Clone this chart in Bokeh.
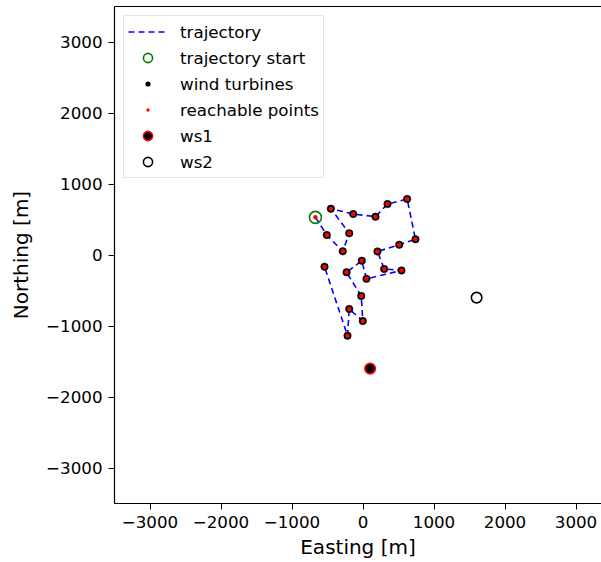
from bokeh.plotting import figure
from bokeh.models import Range1d, LinearAxis, FixedTicker, Legend, LegendItem
from bokeh.embed import file_html
from bokeh.resources import INLINE

# trajectory (visiting order), first point is the start
traj_x = [-670, -510, -285, -194, -453, -138, 176, 345, 622, 739, 510, 204, 298, 542,
          49, -17, -232, -25, -3, -194, -218, -542]
traj_y = [530, 282, 52, 306, 652, 577, 540, 718, 789, 221, 145, 50, -197, -218,
          -336, -80, -244, -577, -930, -761, -1136, -165]
turb_x = traj_x[1:]
turb_y = traj_y[1:]
ws1_x, ws1_y = [100], [-1600]
ws2_x, ws2_y = [1600], [-600]
ticks = [-3000, -2000, -1000, 0, 1000, 2000, 3000]

FONT = "DejaVu Sans"
W, H = 601, 562
L, T, B, R = 114, 6, 59, 0
fw = W - L - R
fh = H - T - B
yr = (-3500, 3500)
xr = (-3500, -3500 + fw / fh * 7000)

p = figure(width=W, height=H, output_backend="svg", toolbar_location=None,
           x_range=Range1d(*xr), y_range=Range1d(*yr),
           min_border_left=L, min_border_top=T, min_border_bottom=B, min_border_right=R)
p.outline_line_color = None
p.grid.visible = False
p.background_fill_color = "white"

for ax in (p.xaxis[0], p.yaxis[0]):
    ax.ticker = FixedTicker(ticks=ticks)
    ax.minor_tick_line_color = None
    ax.major_tick_out = 6
    ax.major_tick_in = 0
    ax.major_tick_line_color = "black"
    ax.axis_line_color = "black"
    ax.axis_line_width = 1.2
    ax.major_label_text_font = FONT
    ax.major_label_text_font_size = "16.7px"
    ax.major_label_text_color = "black"
    ax.axis_label_text_font = FONT
    ax.axis_label_text_font_size = "20px"
    ax.axis_label_text_font_style = "normal"
    ax.axis_label_text_color = "black"
    ax.major_label_standoff = 6
p.xaxis[0].axis_label = "Easting [m]"
p.yaxis[0].axis_label = "Northing [m]"
p.yaxis[0].axis_label_standoff = 10
p.xaxis[0].axis_label_standoff = 4

top = LinearAxis(ticker=FixedTicker(ticks=[]), major_label_text_font_size="0px",
                 major_tick_out=0, major_tick_in=0, minor_tick_line_color=None,
                 axis_line_color="black", axis_line_width=1.2)
p.add_layout(top, "above")

# legend proxies (zero size in the plot, hidden under the turbines);
# in the legend a white outline hides the outer part -> smaller dots
lg_turb = p.scatter(turb_x, turb_y, marker="circle", size=0, fill_color="black",
                    line_color="white", line_width=4.0)
lg_reach = p.scatter(turb_x, turb_y, marker="circle", size=0, fill_color="red",
                     line_color="white", line_width=5.8)

r_traj = p.line(traj_x, traj_y, line_color="blue", line_width=1.6, line_dash="6 4")
r_start = p.scatter(traj_x[:1], traj_y[:1], marker="circle", size=12, fill_color=None,
                    line_color="green", line_width=1.6)
r_turb = p.scatter(turb_x, turb_y, marker="circle", size=7.5, fill_color="black",
                   line_color="black", line_width=0.5)
r_reach = p.scatter(traj_x, traj_y, marker="circle", size=4.5, fill_color="red",
                    line_color=None)
r_ws1 = p.scatter(ws1_x, ws1_y, marker="circle", size=10.5, fill_color="black",
                  line_color="red", line_width=1.6)
r_ws2 = p.scatter(ws2_x, ws2_y, marker="circle", size=10.5, fill_color="white",
                  line_color="black", line_width=1.6)

legend = Legend(items=[
    LegendItem(label="trajectory", renderers=[r_traj]),
    LegendItem(label="trajectory start", renderers=[r_start]),
    LegendItem(label="wind turbines", renderers=[lg_turb]),
    LegendItem(label="reachable points", renderers=[lg_reach]),
    LegendItem(label="ws1", renderers=[r_ws1]),
    LegendItem(label="ws2", renderers=[r_ws2]),
], location="top_left")
legend.margin = 9
legend.padding = 4
legend.spacing = 3
legend.glyph_height = 23
legend.label_height = 23
legend.glyph_width = 39
legend.label_standoff = 13
legend.label_text_font = FONT
legend.label_text_font_size = "16.7px"
legend.label_text_color = "black"
legend.border_line_color = "#cccccc"
legend.border_line_width = 1
legend.background_fill_alpha = 0.8
p.add_layout(legend, "center")

open("out.html", "w").write(file_html(p, INLINE))
